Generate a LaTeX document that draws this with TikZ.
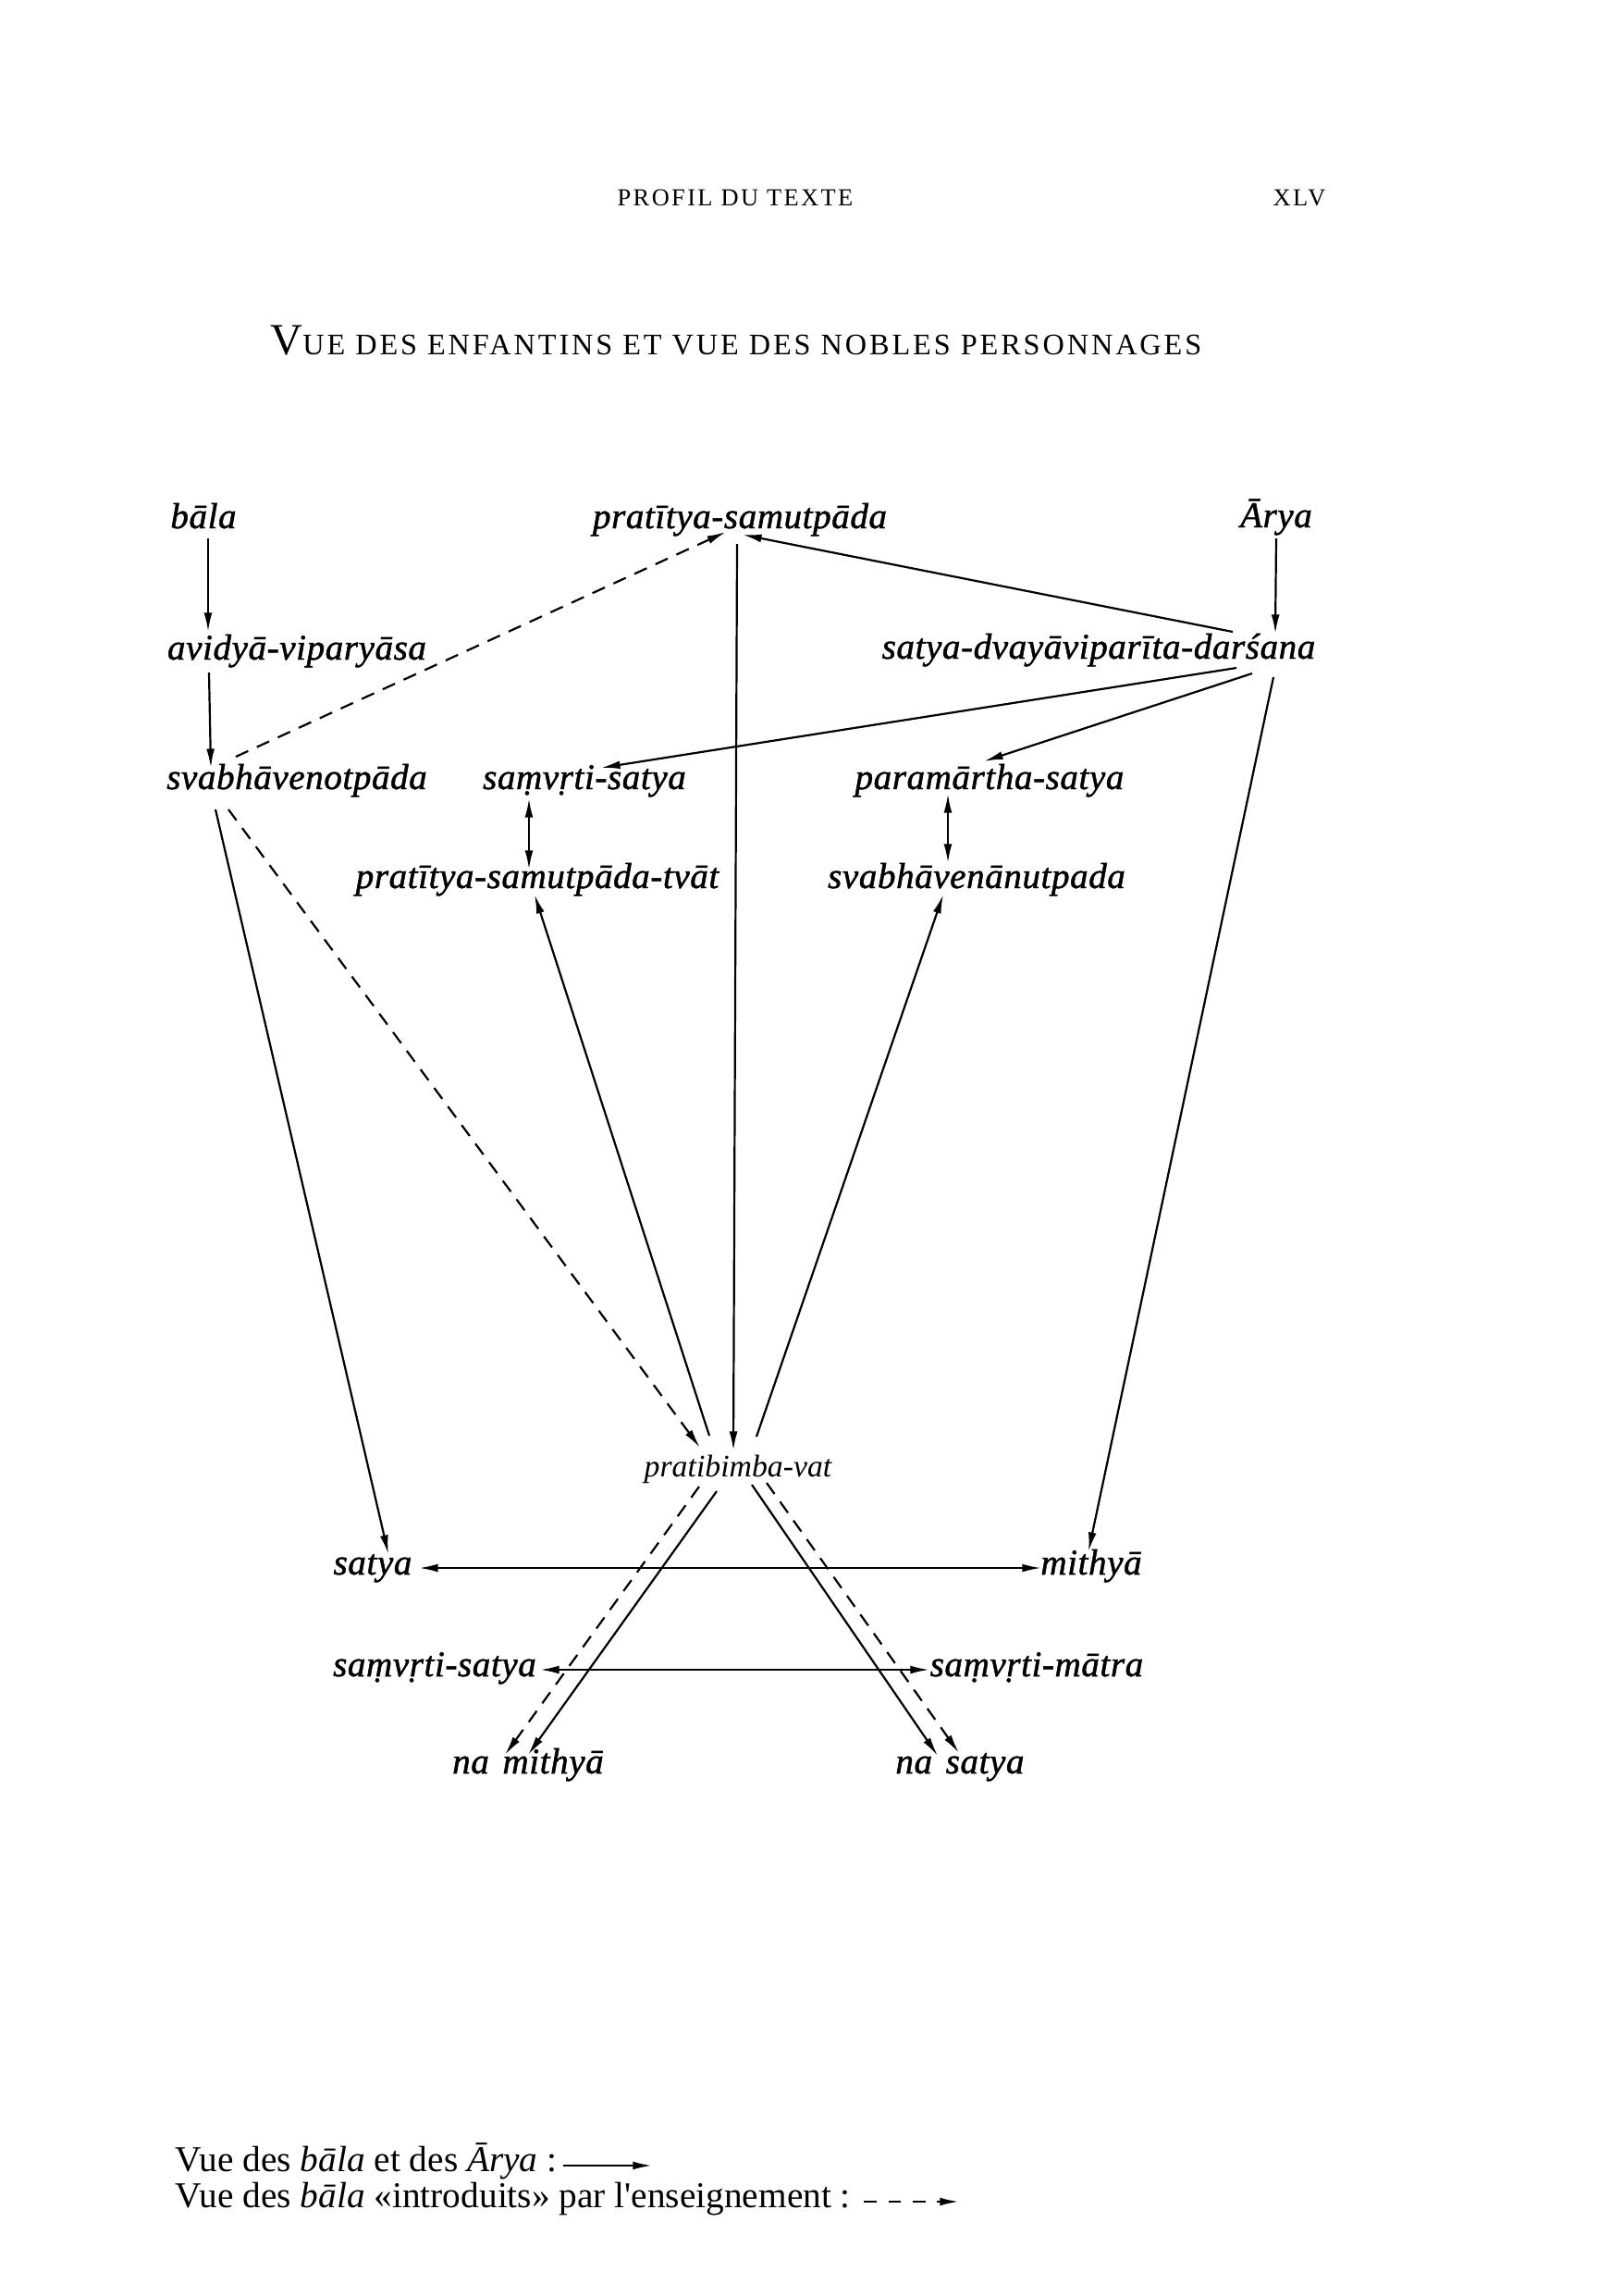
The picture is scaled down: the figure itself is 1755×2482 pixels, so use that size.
\documentclass[tikz,border=0pt]{standalone}
\usepackage{fontspec}
\setmainfont{Liberation Serif}
\newfontfamily\labfont{Liberation Serif}[LetterSpace=1.5,FakeBold=1.2]
\newfontfamily\thinfont{Liberation Serif}
\newfontfamily\legfont{Liberation Serif}
\newfontfamily\capsfont{Liberation Serif}[LetterSpace=9]
\newfontfamily\runfont{Liberation Serif}[LetterSpace=9]
\usetikzlibrary{arrows.meta,calc}
\tikzset{
  lab/.style={font=\labfont\itshape\fontsize{13.3}{15}\selectfont, inner sep=0pt, anchor=base},
  thinlab/.style={font=\thinfont\itshape\fontsize{11.5}{13}\selectfont, inner sep=0pt, anchor=base},
  leg/.style={font=\legfont\fontsize{13.4}{15}\selectfont, inner sep=0pt, anchor=base west},
  arr/.style={-{Latex[length=7pt,width=3pt]}, line width=0.75pt},
  darr/.style={arr, dash pattern=on 5pt off 3.5pt},
  dbl/.style={{Latex[length=7pt,width=3pt]}-{Latex[length=7pt,width=3pt]}, line width=0.75pt}
}
\begin{document}
\begin{tikzpicture}[x=0.1197mm,y=-0.1197mm]
\fill[white] (0,0) rectangle (1755,2482);
\path[use as bounding box] (0,0) rectangle (1755,2482);

% header
\node[font=\runfont\fontsize{9}{11}\selectfont, inner sep=0pt, anchor=base] (profil) at (795,222) {PROFIL DU TEXTE};
\node[font=\runfont\fontsize{9}{11}\selectfont, inner sep=0pt, anchor=base] (xlv) at (1405,222) {XLV};
\node[inner sep=0pt, anchor=base west] (title) at (292,383)
  {\capsfont{\fontsize{16.4}{18}\selectfont V}\fontsize{11}{12}\selectfont UE DES ENFANTINS ET VUE DES NOBLES PERSONNAGES};

% nodes
\node[lab] (bala) at (220,571) {bāla};
\node[lab] (pts) at (800,571) {pratītya-samutpāda};
\node[lab] (arya) at (1380,570) {Ārya};
\node[lab] (avid) at (321,713) {avidyā-viparyāsa};
\node[lab] (dars) at (1188,712) {satya-dvayāviparīta-darśana};
\node[lab] (svo) at (321,853) {svabhāvenotpāda};
\node[lab] (samv) at (632,853) {saṃvṛti-satya};
\node[lab] (param) at (1070,853) {paramārtha-satya};
\node[lab] (ptst) at (581,960) {pratītya-samutpāda-tvāt};
\node[lab] (svn) at (1056,960) {svabhāvenānutpada};
\node[thinlab] (prat) at (798,1596) {pratibimba-vat};
\node[lab] (satya) at (403,1702) {satya};
\node[lab] (mith) at (1180,1702) {mithyā};
\node[lab] (samv2) at (470,1812) {saṃvṛti-satya};
\node[lab] (smat) at (1121,1812) {saṃvṛti-mātra};
\node[lab] (nam) at (571,1917) {na\hspace{5pt}mithyā};
\node[lab] (nas) at (1038,1917) {na\hspace{5pt}satya};

% connectors
\draw[arr] ($(bala.base)+(5,11)$) -- ($(avid.base)+(-96,-30)$);
\draw[arr] ($(avid.base)+(-95,14)$) -- ($(svo.base)+(-93,-23)$);
\draw[darr] ($(svo.base)+(-66,-35)$) -- ($(pts.base)+(-15,4)$);
\draw[arr] ($(pts.base)+(-3,17)$) -- ($(prat.base)+(-5,-28)$);
\draw[arr] ($(dars.base)+(145,-29)$) -- ($(pts.base)+(3,7)$);
\draw[arr] ($(dars.base)+(149,10)$) -- ($(samv.base)+(18,-23)$);
\draw[arr] ($(dars.base)+(166,16)$) -- ($(param.base)+(-6,-30)$);
\draw[arr] ($(dars.base)+(189,20)$) -- ($(mith.base)+(-3,-25)$);
\draw[arr] ($(arya.base)+(0,12)$) -- ($(dars.base)+(191,-27)$);
\draw[dbl] ($(samv.base)+(-60,10)$) -- ($(ptst.base)+(-9,-20)$);
\draw[dbl] ($(param.base)+(-45,5)$) -- ($(svn.base)+(-31,-27)$);
\draw[arr] ($(prat.base)+(-31,-44)$) -- ($(ptst.base)+(-3,7)$);
\draw[arr] ($(prat.base)+(20,-43)$) -- ($(svn.base)+(-36,7)$);
\draw[arr] ($(svo.base)+(-88,22)$) -- ($(satya.base)+(17,-22)$);
\draw[darr] ($(svo.base)+(-74,22)$) -- ($(prat.base)+(-41,-31)$);
\draw[dbl] ($(satya.base)+(50,-7)$) -- ($(mith.base)+(-54,-7)$);
\draw[dbl] ($(samv2.base)+(114,-7)$) -- ($(smat.base)+(-116,-7)$);
\draw[arr] ($(prat.base)+(-23,16)$) -- ($(nam.base)+(0,-20)$);
\draw[darr] ($(prat.base)+(-42,11)$) -- ($(nam.base)+(-25,-20)$);
\draw[arr] ($(prat.base)+(15,9)$) -- ($(nas.base)+(-24,-19)$);
\draw[darr] ($(prat.base)+(31,7)$) -- ($(nas.base)+(-1,-22)$);

% legend
\node[leg] (leg1) at (189,2347) {Vue des \textit{bāla} et des \textit{Ārya} :};
\coordinate (leg1e) at (705,2341);
\draw[arr, line width=0.8pt] ($(leg1.base east)+(6,-6)$) -- (leg1e);
\node[leg] (leg2) at (189,2386) {Vue des \textit{bāla} «introduits» par l'enseignement :};
\coordinate (leg2e) at (1037,2380);
\draw[darr, line width=0.8pt, dash pattern=on 4.7pt off 4.2pt] ($(leg2.base east)+(14,-6)$) -- (leg2e);
\end{tikzpicture}
\end{document}
